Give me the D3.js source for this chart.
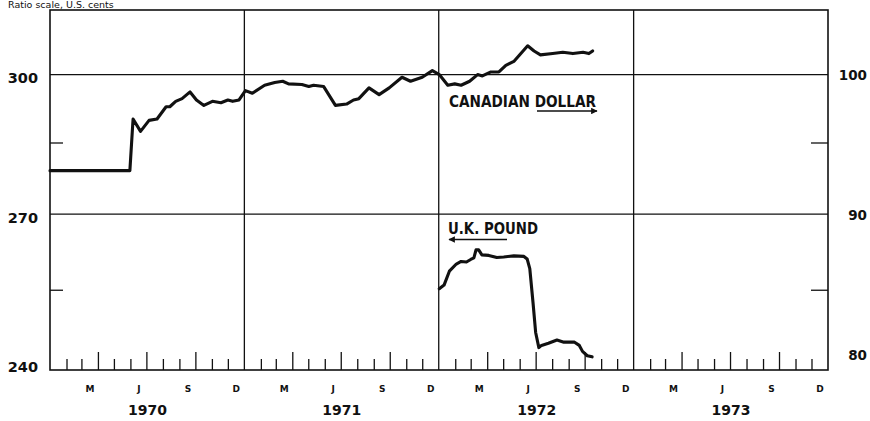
<!DOCTYPE html>
<html>
<head>
<meta charset="utf-8">
<script src="https://cdn.jsdelivr.net/npm/d3@7"></script>
<style>
  body { margin: 0; background: #fff; }
  text { font-family: "DejaVu Sans", sans-serif; fill: #111; }
</style>
</head>
<body>
<div id="chart"></div>
<script>
// Canadian dollar, U.S. cents (right scale)
const cadDates = [
  "1970-01-01", "1970-05-31", "1970-06-06", "1970-06-20", "1970-07-06", "1970-07-21",
  "1970-08-07", "1970-08-14", "1970-08-25", "1970-09-06", "1970-09-21", "1970-10-03",
  "1970-10-17", "1970-11-02", "1970-11-18", "1970-12-01", "1970-12-10", "1970-12-22",
  "1971-01-03", "1971-01-16", "1971-02-08", "1971-02-27", "1971-03-14", "1971-03-25",
  "1971-04-19", "1971-05-02", "1971-05-11", "1971-05-30", "1971-06-21", "1971-07-12",
  "1971-07-25", "1971-08-04", "1971-08-23", "1971-09-11", "1971-09-30", "1971-10-24",
  "1971-11-09", "1971-12-01", "1971-12-20", "1972-01-02", "1972-01-18", "1972-01-31",
  "1972-02-12", "1972-02-28", "1972-03-14", "1972-03-23", "1972-04-08", "1972-04-23",
  "1972-05-06", "1972-05-21", "1972-06-16", "1972-06-28", "1972-07-10", "1972-08-02",
  "1972-08-21", "1972-09-09", "1972-09-28", "1972-10-09", "1972-10-16"
];
const cadValues = [
  93.0, 93.0, 96.7, 95.8, 96.6, 96.7,
  97.6, 97.6, 98.0, 98.2, 98.7, 98.1,
  97.7, 98.0, 97.9, 98.1, 98.0, 98.1,
  98.8, 98.6, 99.2, 99.4, 99.5, 99.3,
  99.25, 99.1, 99.2, 99.1, 97.7, 97.8,
  98.1, 98.2, 99.0, 98.5, 99.0, 99.8,
  99.5, 99.8, 100.3, 100.0, 99.2, 99.3,
  99.2, 99.5, 100.0, 99.9, 100.2, 100.2,
  100.7, 101.0, 102.2, 101.8, 101.5, 101.6,
  101.7, 101.6, 101.7, 101.6, 101.8
];

// U.K. pound, U.S. cents (left scale)
const gbpDates = [
  "1972-01-02", "1972-01-11", "1972-01-21", "1972-02-03", "1972-02-12", "1972-02-22",
  "1972-03-01", "1972-03-07", "1972-03-11", "1972-03-16", "1972-03-22", "1972-04-04",
  "1972-04-19", "1972-05-02", "1972-05-21", "1972-06-09", "1972-06-15", "1972-06-20",
  "1972-06-26", "1972-07-01", "1972-07-07", "1972-07-12", "1972-07-25", "1972-08-10",
  "1972-08-23", "1972-09-12", "1972-09-21", "1972-09-27", "1972-10-06", "1972-10-15"
];
const gbpValues = [
  255.2, 255.9, 258.6, 260.0, 260.5, 260.4,
  260.9, 261.2, 262.8, 262.8, 261.8, 261.7,
  261.3, 261.4, 261.6, 261.5, 261.0, 259.1,
  252.6, 246.9, 244.1, 244.5, 244.9, 245.5,
  245.1, 245.1, 244.5, 243.4, 242.6, 242.4
];

const leftTicks = [240, 270, 300];
const leftMinor = [255, 285];
const rightTicks = [80, 90, 100];
const rightMinor = [85, 95];
const monthLetters = ["M", "J", "S", "D"];
const years = [1970, 1971, 1972, 1973];

const WIDTH = 870, HEIGHT = 421;
const margin = { top: 10, right: 42, bottom: 51, left: 50 };
const WIDTHVIS = WIDTH - margin.left - margin.right;
const HEIGHTVIS = HEIGHT - margin.top - margin.bottom;

const parse = d3.timeParse("%Y-%m-%d");
const cad = cadDates.map((d, i) => ({ date: parse(d), v: cadValues[i] }));
const gbp = gbpDates.map((d, i) => ({ date: parse(d), v: gbpValues[i] }));

const xScale = d3.scaleTime()
  .domain([new Date(years[0], 0, 1), new Date(years[years.length - 1] + 1, 0, 1)])
  .range([0, WIDTHVIS]);
const yLeft = d3.scaleLog().domain([240, 315]).range([HEIGHTVIS, 0]);
const yRight = d3.scaleLog().domain([80, 105]).range([HEIGHTVIS, 0]);

const svg = d3.select("#chart").append("svg")
  .attr("width", WIDTH)
  .attr("height", HEIGHT);

svg.append("text")
  .attr("x", 8).attr("y", 8)
  .attr("font-size", "9.5px")
  .text("Ratio scale, U.S. cents");

const g = svg.append("g").attr("transform", `translate(${margin.left},${margin.top})`);

// grid lines at 270 / 300
g.selectAll(".hgrid")
  .data(leftTicks.slice(1))
  .join("line")
  .attr("x1", 0).attr("x2", WIDTHVIS)
  .attr("y1", d => yLeft(d)).attr("y2", d => yLeft(d))
  .attr("stroke", "#111").attr("stroke-width", 1.3);

// year dividers
g.selectAll(".vgrid")
  .data(years.slice(1))
  .join("line")
  .attr("x1", d => xScale(new Date(d, 0, 1))).attr("x2", d => xScale(new Date(d, 0, 1)))
  .attr("y1", 0).attr("y2", HEIGHTVIS)
  .attr("stroke", "#111").attr("stroke-width", 1.3);

// frame
g.append("rect")
  .attr("width", WIDTHVIS).attr("height", HEIGHTVIS)
  .attr("fill", "none").attr("stroke", "#111").attr("stroke-width", 1.6);

// month ticks along the bottom
const monthBounds = d3.timeMonth.range(new Date(1970, 1, 1), new Date(1974, 0, 1))
  .filter(d => d.getMonth() !== 0);
const quarterBounds = monthBounds.filter(d => d.getMonth() % 3 === 0);
const plainBounds = monthBounds.filter(d => d.getMonth() % 3 !== 0);

const tickStyle = sel => {
  sel.select(".domain").remove();
  sel.selectAll("line").attr("stroke", "#111").attr("stroke-width", 1.3);
};

g.append("g")
  .attr("transform", `translate(0,${HEIGHTVIS})`)
  .call(d3.axisTop(xScale).tickValues(plainBounds).tickSize(11).tickFormat(""))
  .call(tickStyle);
g.append("g")
  .attr("transform", `translate(0,${HEIGHTVIS})`)
  .call(d3.axisTop(xScale).tickValues(quarterBounds).tickSize(18).tickFormat(""))
  .call(tickStyle);

// month letters
const midQuarterMonths = d3.timeMonth.range(new Date(1970, 2, 1), new Date(1974, 0, 1), 3)
  .map(d => new Date(d.getFullYear(), d.getMonth(), 16));
g.append("g")
  .attr("transform", `translate(0,${HEIGHTVIS})`)
  .call(d3.axisBottom(xScale).tickValues(midQuarterMonths).tickSize(0).tickPadding(16)
    .tickFormat(d => monthLetters[Math.floor(d.getMonth() / 3)]))
  .call(sel => sel.select(".domain").remove())
  .selectAll("text")
  .attr("font-family", "DejaVu Sans").attr("font-weight", "bold").attr("font-size", "9px")
  .attr("fill", "#111");

// year labels
g.append("g")
  .attr("transform", `translate(0,${HEIGHTVIS})`)
  .call(d3.axisBottom(xScale).tickValues(years.map(y => new Date(y, 6, 2))).tickSize(0).tickPadding(35)
    .tickFormat(d3.timeFormat("%Y")))
  .call(sel => sel.select(".domain").remove())
  .selectAll("text")
  .attr("font-family", "DejaVu Sans").attr("font-weight", "bold").attr("font-size", "14px")
  .attr("fill", "#111");

// left axis
const leftAxis = g.append("g")
  .call(d3.axisLeft(yLeft).tickValues(leftTicks).tickSize(0).tickPadding(12).tickFormat(d3.format("d")))
  .call(sel => sel.select(".domain").remove());
leftAxis.selectAll("text")
  .attr("font-family", "DejaVu Sans").attr("font-weight", "bold").attr("font-size", "14.5px")
  .attr("fill", "#111")
  .attr("dy", d => d === 240 ? "0.1em" : "0.55em");

g.append("g")
  .call(d3.axisRight(yLeft).tickValues(leftMinor).tickSize(13).tickFormat(""))
  .call(tickStyle);

// right axis
const rightAxis = g.append("g")
  .attr("transform", `translate(${WIDTHVIS},0)`)
  .call(d3.axisRight(yRight).tickValues(rightTicks).tickSize(0).tickPadding(39).tickFormat(d3.format("d")))
  .call(sel => sel.select(".domain").remove());
rightAxis.selectAll("text")
  .attr("text-anchor", "end")
  .attr("font-family", "DejaVu Sans").attr("font-weight", "bold").attr("font-size", "13.5px")
  .attr("fill", "#111")
  .attr("dy", d => d === 80 ? "-0.8em" : "0.4em");

g.append("g")
  .attr("transform", `translate(${WIDTHVIS},0)`)
  .call(d3.axisLeft(yRight).tickValues(rightMinor).tickSize(17).tickFormat(""))
  .call(tickStyle);

// series
const cadLine = d3.line().x(d => xScale(d.date)).y(d => yRight(d.v));
const gbpLine = d3.line().x(d => xScale(d.date)).y(d => yLeft(d.v));

g.append("path").datum(cad)
  .attr("d", cadLine)
  .attr("fill", "none").attr("stroke", "#111").attr("stroke-width", 3.1)
  .attr("stroke-linejoin", "round").attr("stroke-linecap", "round");

g.append("path").datum(gbp)
  .attr("d", gbpLine)
  .attr("fill", "none").attr("stroke", "#111").attr("stroke-width", 3.1)
  .attr("stroke-linejoin", "round").attr("stroke-linecap", "round");

// labels with arrows
const defs = svg.append("defs");
defs.append("marker")
  .attr("id", "arrow")
  .attr("viewBox", "0 0 10 10")
  .attr("refX", 9).attr("refY", 5)
  .attr("markerWidth", 7).attr("markerHeight", 5)
  .attr("orient", "auto-start-reverse")
  .append("path").attr("d", "M0,0L10,5L0,10z").attr("fill", "#111");

svg.append("text")
  .attr("x", 449).attr("y", 107)
  .attr("font-weight", "bold").attr("font-size", "15px")
  .attr("textLength", 147).attr("lengthAdjust", "spacingAndGlyphs")
  .text("CANADIAN DOLLAR");
svg.append("line")
  .attr("x1", 537).attr("x2", 597).attr("y1", 111).attr("y2", 111)
  .attr("stroke", "#111").attr("stroke-width", 1.3)
  .attr("marker-end", "url(#arrow)");

svg.append("text")
  .attr("x", 448).attr("y", 234)
  .attr("font-weight", "bold").attr("font-size", "15px")
  .attr("textLength", 90).attr("lengthAdjust", "spacingAndGlyphs")
  .text("U.K. POUND");
svg.append("line")
  .attr("x1", 449).attr("x2", 507).attr("y1", 239.5).attr("y2", 239.5)
  .attr("stroke", "#111").attr("stroke-width", 1.3)
  .attr("marker-start", "url(#arrow)");
</script>
</body>
</html>
